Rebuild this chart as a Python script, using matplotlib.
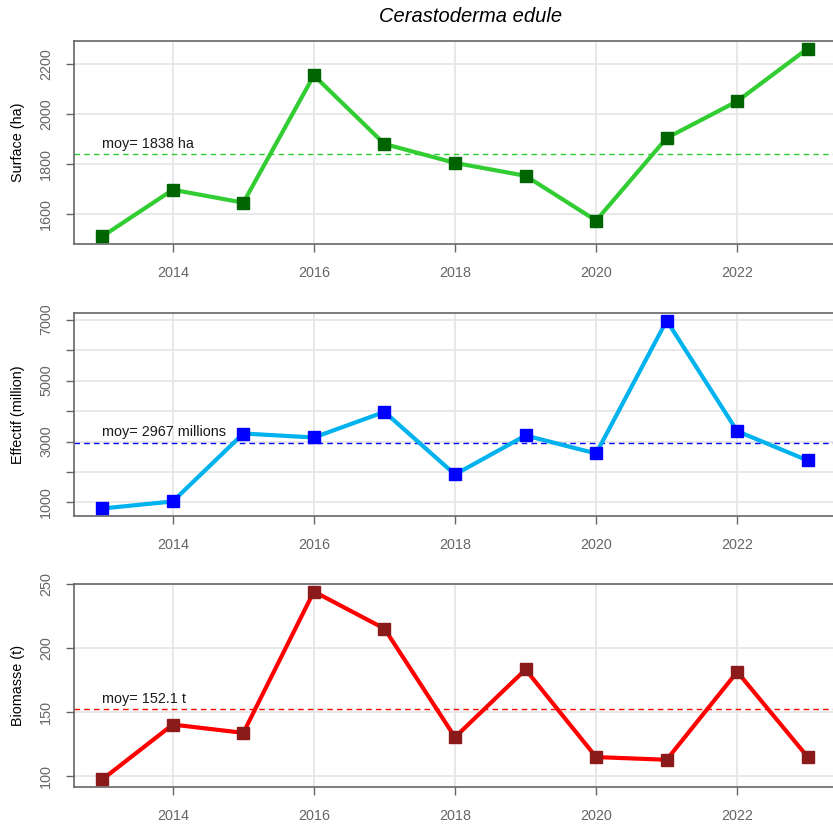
import matplotlib
matplotlib.use('Agg')
import matplotlib.pyplot as plt

plt.rcParams['font.family'] = ['Liberation Sans', 'DejaVu Sans']

# Data
years = [2013, 2014, 2015, 2016, 2017, 2018, 2019, 2020, 2021, 2022, 2023]
surface = [1508, 1696, 1644, 2156, 1880, 1804, 1752, 1572, 1904, 2052, 2264]
effectif = [803, 1033, 3263, 3132, 3972, 1918, 3198, 2607, 6970, 3339, 2378]
biomasse = [97.4, 140.3, 133.8, 244.2, 215.2, 130.4, 183.3, 114.9, 112.8, 181.5, 114.9]

moy_surface = 1838
moy_effectif = 2967
moy_biomasse = 152.1

xticks = [2014, 2016, 2018, 2020, 2022]

W, H = 833, 825
fig = plt.figure(figsize=(W / 100, H / 100), dpi=100)

# panel boxes in pixels: (top, bottom)
panels = [
    dict(top=41, bottom=244, y=surface, moy=moy_surface, label='Surface (ha)',
         txt='moy= 1838 ha', line='#32CD32', mark='#006400', hline='#32CD32',
         yticks=[1600, 1800, 2000, 2200], ylabels=['1600', '1800', '2000', '2200']),
    dict(top=313, bottom=516, y=effectif, moy=moy_effectif, label='Effectif (million)',
         txt='moy= 2967 millions', line='#00B2EE', mark='#0000FF', hline='#0000FF',
         yticks=[1000, 2000, 3000, 4000, 5000, 6000, 7000],
         ylabels=['1000', '', '3000', '', '5000', '', '7000']),
    dict(top=584, bottom=787, y=biomasse, moy=moy_biomasse, label='Biomasse (t)',
         txt='moy= 152.1 t', line='#FF0000', mark='#8B1A1A', hline='#FF0000',
         yticks=[100, 150, 200, 250], ylabels=['100', '150', '200', '250']),
]

left, right = 74, 836
for p in panels:
    ax = fig.add_axes([left / W, 1 - p['bottom'] / H, (right - left) / W, (p['bottom'] - p['top']) / H])
    vals = p['y']
    lo, hi = min(vals), max(vals)
    r = hi - lo
    ax.set_ylim(lo - 0.04 * r, hi + 0.04 * r)
    ax.set_xlim(2012.6, 2023.4)

    for yt in p['yticks']:
        ax.axhline(yt, color='#E6E6E6', lw=1.3, zorder=0)
    for xt in xticks:
        ax.axvline(xt, color='#E6E6E6', lw=1.3, zorder=0)

    ax.axhline(p['moy'], color=p['hline'], lw=1, ls=(0, (4, 3)), zorder=1)
    ax.plot(years, vals, color=p['line'], lw=3, zorder=2)
    ax.plot(years, vals, ls='none', marker='s', ms=9, color=p['mark'], zorder=3)
    ax.text(2013, p['moy'] + 0.02 * r, p['txt'], fontsize=10.4, color='#1a1a1a',
            ha='left', va='bottom')

    ax.set_xticks(xticks)
    ax.set_xticklabels([str(x) for x in xticks])
    ax.set_yticks(p['yticks'])
    ax.set_yticklabels(p['ylabels'], rotation=90, va='center')
    ax.tick_params(colors='#666666', labelcolor='#666666', labelsize=10.4,
                   length=6, width=1, direction='out')
    ax.tick_params(axis='x', pad=10)
    ax.tick_params(axis='y', pad=9)
    for s in ['top', 'left', 'bottom']:
        ax.spines[s].set_color('#666666')
        ax.spines[s].set_linewidth(1.2)
    ax.spines['right'].set_visible(False)
    ax.set_ylabel(p['label'], fontsize=10.4, color='black', labelpad=10)

fig.text(471 / W, 1 - 16 / H, 'Cerastoderma edule', fontsize=14.5, style='italic',
         ha='center', va='center')

fig.savefig('out.png', dpi=100)
